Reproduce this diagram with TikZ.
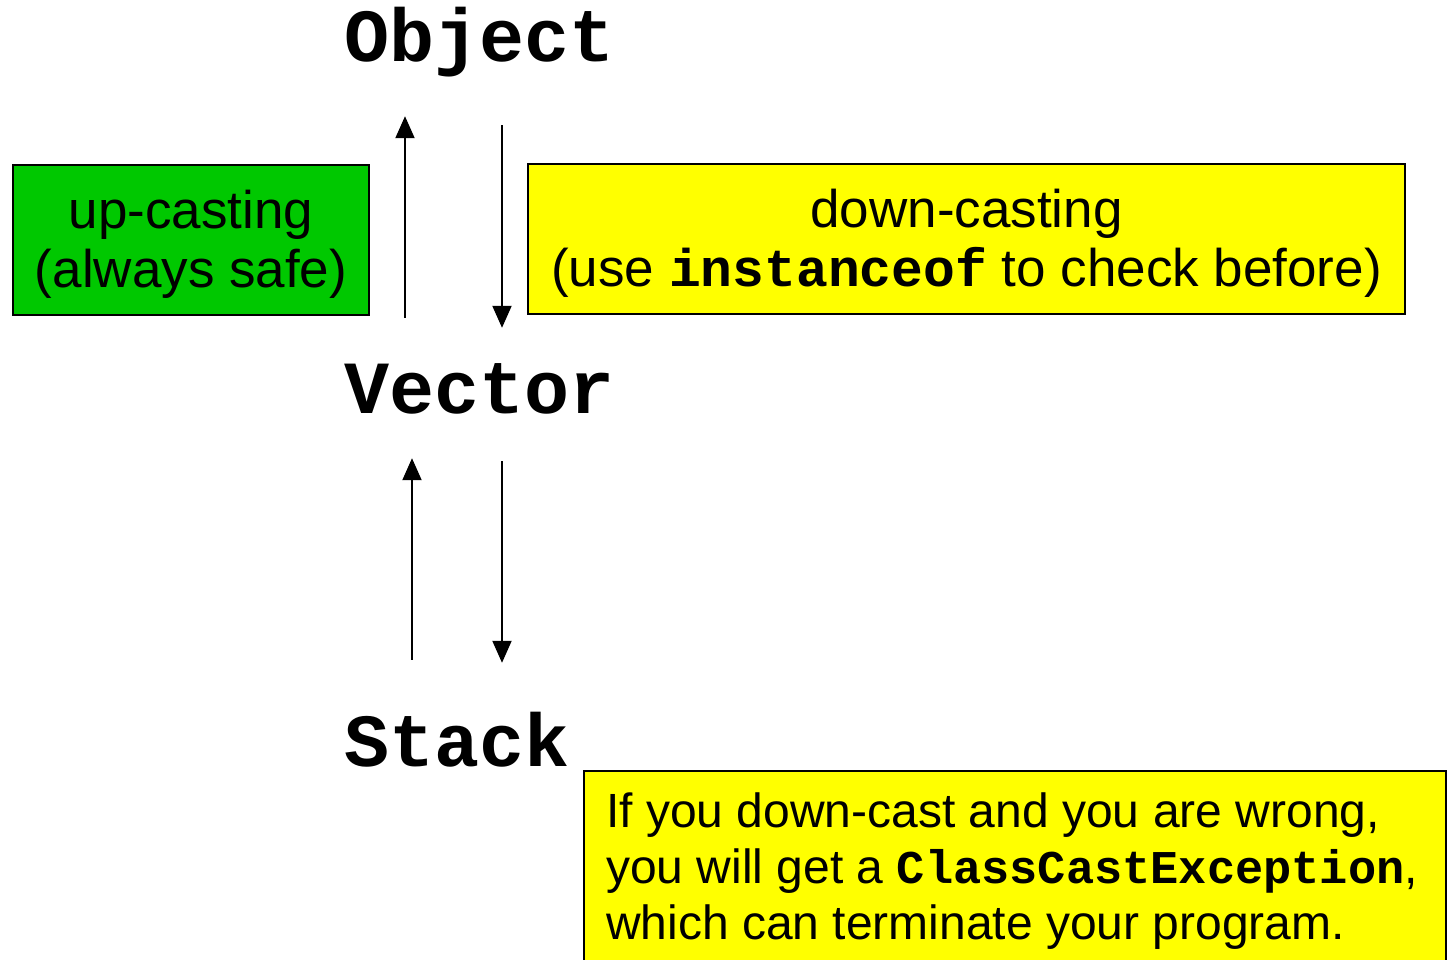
\documentclass[tikz,border=0pt]{standalone}
\usepackage{fontspec}
\setmainfont{Liberation Sans}
\setmonofont{Liberation Mono}
\usetikzlibrary{arrows.meta}
\definecolor{boxgreen}{RGB}{0,200,0}
\definecolor{boxyellow}{RGB}{255,255,0}
\begin{document}
\begin{tikzpicture}[x=1pt,y=-1pt,
  classname/.style={anchor=base west,inner sep=0pt,text height=46pt,text depth=12pt,
    font=\fontsize{75}{80}\selectfont\ttfamily\bfseries},
  notebox/.style={draw=black,line width=2.2pt,inner sep=0pt,align=center,
    font=\fontsize{53}{59}\selectfont},
  arr/.style={line width=2pt,-{Triangle[width=19pt,length=22pt]}}]
\useasboundingbox (0,0) rectangle (1455,959);
\clip (0,0) rectangle (1455,959);
\node[classname] (object) at (344,61) {Object};
\node[classname] (vector) at (344,413) {Vector};
\node[classname] (stack) at (344,766) {Stack};
\node[notebox,fill=boxgreen,minimum width=356pt,minimum height=150pt] (up) at (191,240)
  {\rule{0pt}{46pt}up-casting\\(always safe)};
\node[notebox,fill=boxyellow,minimum width=877pt,minimum height=150pt] (down) at (966.5,239)
  {\rule{0pt}{46pt}down-casting\\(use \texttt{\bfseries instanceof} to check before)};
\node[draw=black,line width=2.2pt,fill=boxyellow,anchor=north west,minimum width=862pt,
  minimum height=200pt,text width=818pt,inner xsep=22pt,inner ysep=0pt,align=left,
  font=\fontsize{48}{56}\selectfont] (warn) at (583,770)
  {\spaceskip=0pt\xspaceskip=0pt\relax
   \mbox{If you down-cast and you are wrong,}\\\mbox{you will get a {\fontsize{47}{56}\selectfont\texttt{\bfseries ClassCastException}},}\\\mbox{which can terminate your program.}};
\draw[arr] ([shift={(61,-49)}]vector.north west) -- ([shift={(61,43)}]object.south west);
\draw[arr] ([shift={(158,52)}]object.south west) -- ([shift={(158,-39)}]vector.north west);
\draw[arr] ([shift={(68,-60)}]stack.north west) -- ([shift={(68,33)}]vector.south west);
\draw[arr] ([shift={(158,36)}]vector.south west) -- ([shift={(158,-57)}]stack.north west);
\end{tikzpicture}
\end{document}
